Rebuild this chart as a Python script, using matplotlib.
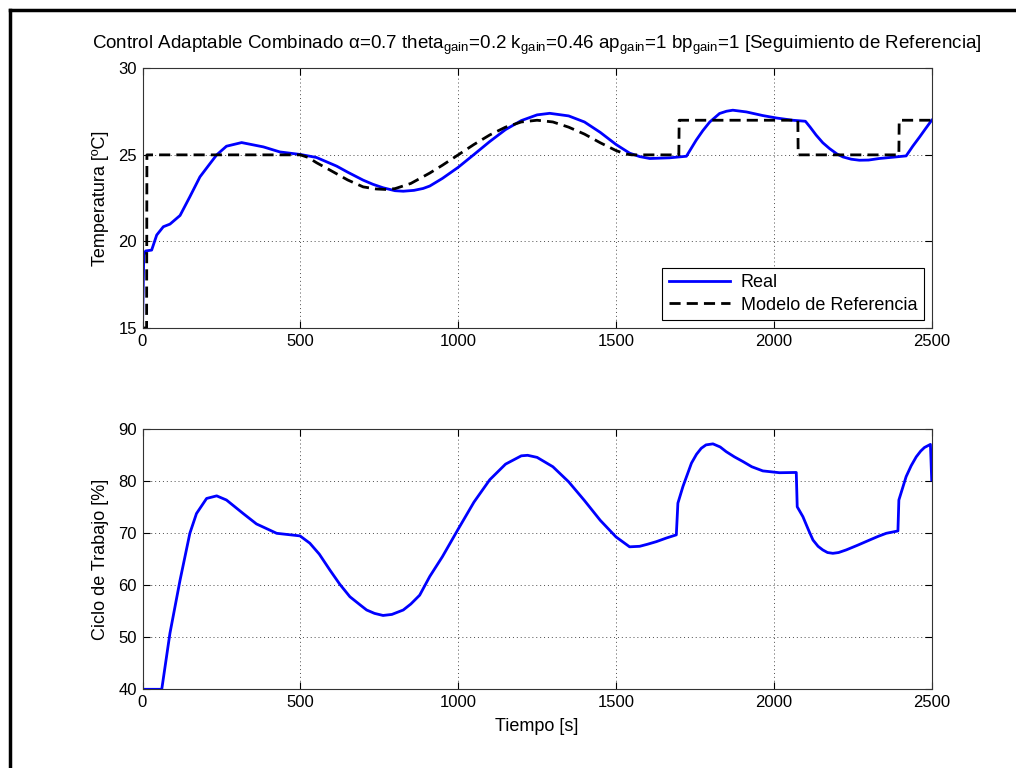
import matplotlib
matplotlib.use("Agg")
import matplotlib.pyplot as plt
from matplotlib.lines import Line2D

plt.rcParams['font.family'] = ['Liberation Sans', 'DejaVu Sans']
plt.rcParams['mathtext.fontset'] = 'custom'
plt.rcParams['mathtext.rm'] = 'Liberation Sans'
plt.rcParams['mathtext.it'] = 'Liberation Sans'
plt.rcParams['mathtext.sf'] = 'Liberation Sans'

# Temperatura medida (Real)
t_real = [0, 4, 10, 29, 45, 66, 87, 119, 150, 182, 214, 235, 266, 314, 383, 435,
          501, 551, 615, 650, 699, 730, 762, 800, 826, 860, 889, 910, 950, 1000,
          1050, 1100, 1150, 1200, 1250, 1290, 1350, 1400, 1450, 1500, 1543, 1575,
          1607, 1670, 1723, 1754, 1775, 1797, 1828, 1850, 1870, 1913, 1965, 2008,
          2060, 2100, 2115, 2134, 2155, 2176, 2200, 2219, 2245, 2271, 2300, 2334,
          2380, 2419, 2440, 2462, 2480, 2500]
temp_real = [15.0, 19.2, 19.45, 19.5, 20.37, 20.85, 21.0, 21.5, 22.58, 23.73, 24.5,
             25.0, 25.5, 25.71, 25.46, 25.17, 25.02, 24.85, 24.35, 24.0, 23.54, 23.3,
             23.1, 22.93, 22.9, 22.95, 23.06, 23.2, 23.64, 24.28, 25.02, 25.77, 26.46,
             26.98, 27.31, 27.4, 27.25, 26.9, 26.3, 25.6, 25.1, 24.9, 24.79, 24.83,
             24.92, 25.85, 26.4, 26.9, 27.39, 27.52, 27.58, 27.48, 27.27, 27.13, 27.0,
             26.94, 26.6, 26.14, 25.7, 25.37, 25.05, 24.88, 24.75, 24.69, 24.7, 24.79,
             24.87, 24.94, 25.5, 26.04, 26.5, 27.0]

# Modelo de referencia
t_ref = [0, 13, 14, 500, 525, 551, 594, 650, 699, 740, 773, 800, 850, 910, 950,
         1000, 1050, 1100, 1150, 1200, 1250, 1300, 1350, 1400, 1450, 1500, 1530,
         1550, 1699, 1700, 2076, 2077, 2396, 2397, 2500]
temp_ref = [15.0, 15.0, 25.0, 25.0, 24.85, 24.55, 24.12, 23.55, 23.15, 23.03, 23.0,
            23.05, 23.35, 23.95, 24.4, 25.0, 25.6, 26.15, 26.6, 26.9, 27.0, 26.9,
            26.6, 26.2, 25.7, 25.25, 25.05, 25.0, 25.0, 27.0, 27.0, 25.0, 25.0,
            27.0, 27.0]

# Ciclo de trabajo
t_duty = [0, 61, 87, 119, 150, 171, 203, 235, 266, 319, 361, 425, 499, 530, 560,
          594, 625, 657, 690, 710, 735, 762, 790, 826, 850, 878, 910, 950, 1000,
          1050, 1100, 1150, 1200, 1220, 1250, 1300, 1350, 1400, 1450, 1500, 1543,
          1575, 1600, 1628, 1660, 1691, 1696, 1712, 1739, 1755, 1770, 1785, 1807,
          1830, 1849, 1875, 1902, 1930, 1965, 2018, 2071, 2074, 2092, 2110, 2124,
          2140, 2155, 2170, 2187, 2205, 2229, 2265, 2303, 2330, 2356, 2393, 2396,
          2419, 2435, 2451, 2465, 2477, 2496, 2500]
duty = [40.0, 40.0, 50.8, 61.0, 70.0, 73.8, 76.7, 77.2, 76.4, 73.8, 71.8, 70.0,
        69.5, 68.1, 66.0, 62.9, 60.2, 57.8, 56.2, 55.25, 54.6, 54.2, 54.4, 55.25,
        56.4, 58.1, 61.7, 65.5, 70.8, 76.0, 80.3, 83.3, 84.9, 85.0, 84.6, 82.8,
        79.9, 76.3, 72.5, 69.3, 67.4, 67.5, 67.9, 68.4, 69.1, 69.7, 75.8, 79.0,
        83.5, 85.2, 86.35, 87.0, 87.2, 86.6, 85.7, 84.7, 83.8, 82.8, 82.0, 81.65,
        81.7, 75.1, 73.2, 70.6, 68.7, 67.5, 66.8, 66.3, 66.15, 66.3, 66.8, 67.7,
        68.7, 69.4, 70.0, 70.45, 76.4, 80.9, 83.0, 84.7, 85.8, 86.5, 87.1, 80.25]

x_ticks = [0, 500, 1000, 1500, 2000, 2500]

W, H = 1016, 768
fig = plt.figure(figsize=(W / 100, H / 100), dpi=100)
fig.patch.set_facecolor('white')

ax1 = fig.add_axes([142.5 / W, 1 - 328 / H, (931.7 - 142.5) / W, (328 - 68.3) / H])
ax2 = fig.add_axes([142.5 / W, 1 - 689.3 / H, (931.7 - 142.5) / W, (689.3 - 429.3) / H])

fs = 12
lfs = 13
for ax in (ax1, ax2):
    ax.set_xlim(0, 2500)
    ax.set_xticks(x_ticks)
    ax.grid(True, linestyle=(0, (1, 3)), color='black', linewidth=0.7, alpha=0.7)
    ax.tick_params(direction='in', length=5, labelsize=fs, top=True, right=True,
                   pad=4, width=0.8)
    for s in ax.spines.values():
        s.set_linewidth(0.8)
        s.set_color('#333333')

ax1.plot(t_real, temp_real, color='#0000ff', linewidth=2.0, label='Real')
ax1.plot(t_ref, temp_ref, color='black', linewidth=2.0, linestyle=(0, (4, 2.2)),
         label='Modelo de Referencia')
ax1.set_ylim(15, 30)
ax1.set_yticks([15, 20, 25, 30])
ax1.set_ylabel('Temperatura [ºC]', fontsize=lfs, labelpad=7)
ax1.set_title(r'Control Adaptable Combinado $\alpha$=0.7 theta$_{\mathrm{gain}}$=0.2 '
              r'k$_{\mathrm{gain}}$=0.46 ap$_{\mathrm{gain}}$=1 bp$_{\mathrm{gain}}$=1 '
              r'[Seguimiento de Referencia]', fontsize=13.5, pad=14)
leg = ax1.legend(loc='lower right', fontsize=lfs, fancybox=False, framealpha=1,
                 edgecolor='black', borderaxespad=0.45, handlelength=3.4,
                 borderpad=0.35, labelspacing=0.3, handletextpad=0.6)
leg.get_frame().set_linewidth(0.8)

ax2.plot(t_duty, duty, color='#0000ff', linewidth=2.0)
ax2.set_ylim(40, 90)
ax2.set_yticks([40, 50, 60, 70, 80, 90])
ax2.set_ylabel('Ciclo de Trabajo [%]', fontsize=lfs, labelpad=7)
ax2.set_xlabel('Tiempo [s]', fontsize=lfs, labelpad=6)

# Marco exterior (borde superior e izquierdo)
fig.add_artist(Line2D([9.5 / W, 1.0], [1 - 10 / H, 1 - 10 / H], color='black',
                      linewidth=2.5, transform=fig.transFigure))
fig.add_artist(Line2D([9.5 / W, 9.5 / W], [0, 1 - 10 / H], color='black',
                      linewidth=2.5, transform=fig.transFigure))

fig.savefig('out.png', dpi=100, facecolor='white')
